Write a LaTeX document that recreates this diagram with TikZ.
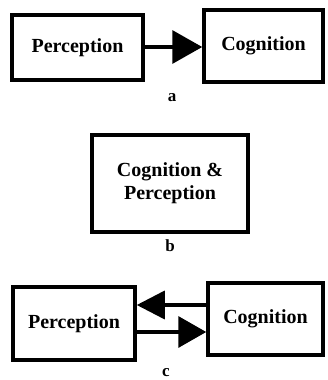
\documentclass[tikz,border=0pt]{standalone}
\usepackage{fontspec}
\setmainfont{Liberation Serif}
\usetikzlibrary{arrows.meta}
\tikzset{
  boxnode/.style={draw=black, line width=3.5pt, rectangle, inner sep=0pt, font=\fontsize{20}{23}\selectfont\bfseries, align=center},
  lbl/.style={font=\fontsize{17}{19}\selectfont\bfseries, inner sep=0pt},
  conn/.style={line width=3.5pt, black},
}
\begin{document}
\begin{tikzpicture}[x=1pt,y=-1pt]
\useasboundingbox (0,0) rectangle (327,380);
% panel a
\node[boxnode, minimum width=131pt, minimum height=65pt] (pa) at (77.5,47.5) {Perception};
\node[boxnode, minimum width=119pt, minimum height=72pt] (ca) at (263.5,46) {Cognition};
\draw[conn, -{Triangle[length=30pt,width=33pt]}] (pa.east |- 0,47) -- (ca.west |- 0,47);
\node[lbl] (la) at (172,98) {a};
% panel b
\node[boxnode, minimum width=156pt, minimum height=97pt] (bb) at (170,183.5) {Cognition \&\\Perception};
\node[lbl] (lb) at (170,246) {b};
% panel c
\node[boxnode, minimum width=122pt, minimum height=73pt] (pc) at (74,323.5) {Perception};
\node[boxnode, minimum width=115pt, minimum height=72pt] (cc) at (265.5,319) {Cognition};
\draw[conn, -{Triangle[length=28pt,width=28pt]}] (cc.west |- 0,305) -- (pc.east |- 0,305);
\draw[conn, -{Triangle[length=28pt,width=31pt]}] (pc.east |- 0,332) -- (cc.west |- 0,332);
\node[lbl] (lc) at (166,373) {c};
\end{tikzpicture}
\end{document}
